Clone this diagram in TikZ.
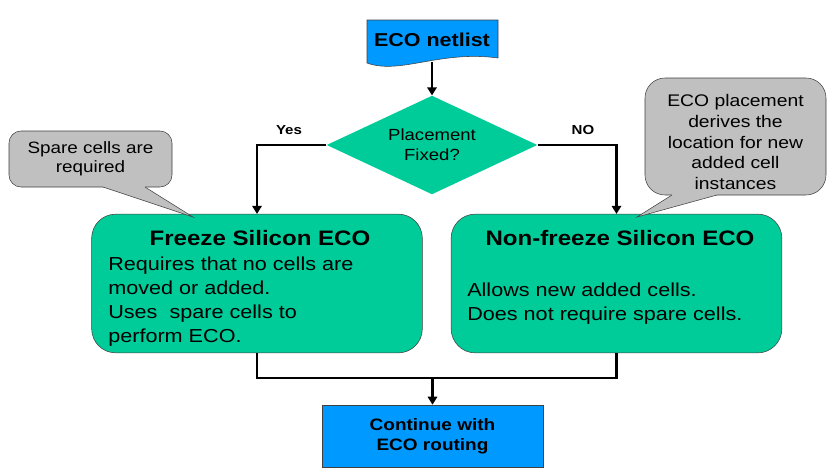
\documentclass[tikz,border=0pt]{standalone}
\usepackage{fontspec}
\setmainfont[FakeStretch=1.15]{Liberation Sans}
\usetikzlibrary{shapes.geometric,arrows.meta}
\definecolor{ecoblue}{RGB}{0,153,255}
\definecolor{ecogreen}{RGB}{0,204,153}
\definecolor{notegray}{RGB}{192,192,192}
\definecolor{edgegray}{RGB}{64,64,64}

\begin{document}
\begin{tikzpicture}[x=0.75pt,y=-0.75pt,
    flow/.style={line width=2pt},
    arrow/.style={flow,-{Triangle[length=6pt,width=7pt]}},
    ecobox/.style={draw=edgegray,fill=ecogreen,rounded corners=18pt,minimum width=248pt,minimum height=104pt},
    title/.style={font=\fontsize{15.7}{18}\selectfont\bfseries},
    body/.style={font=\fontsize{14.1}{18}\selectfont,align=left,inner sep=0pt,anchor=west},
    note/.style={draw=edgegray,fill=notegray}]
    \useasboundingbox (0,0) rectangle (833,472);

    % Draw input netlist (document shape)
    \filldraw[fill=ecoblue,draw=edgegray] (367,20) -- (498,20) -- (498,58) .. controls (440,50) and (400,75) .. (367,63) -- cycle;
    \node[minimum width=98pt,minimum height=33pt] (netlist) at (432,40) {\fontsize{14}{16}\selectfont\bfseries ECO netlist};

    % Draw decision
    \node[diamond,fill=ecogreen,aspect=2.13,minimum width=158pt,minimum height=74pt,inner sep=0pt,align=center,
        font=\fontsize{12.1}{15}\selectfont] (dec) at (432,145) {Placement\\Fixed?};
    \draw[arrow] (netlist.south) -- (dec.north);

    % Add branch labels
    \node[font=\fontsize{9.8}{12}\selectfont\bfseries] (yes) at (289,130) {Yes};
    \node[font=\fontsize{9.8}{12}\selectfont\bfseries] (no) at (583,130) {NO};

    % Draw the two ECO flows
    \node[ecobox] (freeze) at (257,283.5) {};
    \node[ecobox] (nonfreeze) at (616.5,283.5) {};
    \node[title] (freezetitle) at (260,238) {Freeze Silicon ECO};
    \node[body] (freezebody) at (108,302) {Requires that no cells are\\moved or added.\\Uses~ spare cells to\\perform ECO.};
    \node[title] (nonfreezetitle) at (620,238) {Non-freeze Silicon ECO};
    \node[body] (nonfreezebody) at (467,304) {Allows new added cells.\\Does not require spare cells.};
    \draw[arrow] (dec.west) -| (freeze.north);
    \draw[arrow] (dec.east) -| (nonfreeze.north);

    % Merge into routing
    \node[draw=edgegray,fill=ecoblue,minimum width=165.75pt,minimum height=46.5pt,align=center,
        font=\fontsize{12.4}{15}\selectfont\bfseries] (cont) at (432.5,436) {Continue with\\ECO routing};
    \coordinate (merge) at (432.5,378);
    \draw[flow] (freeze.south) |- (merge) -| (nonfreeze.south);
    \draw[arrow] (merge) -- (cont.north);

    % Add callouts
    \filldraw[note,rounded corners=9pt] (9,131) rectangle (172,187);
    \fill[notegray] (103,185) -- (103,187) -- (193,217) -- (145,187) -- (145,185) -- cycle;
    \draw[edgegray] (103,187) -- (193,217) -- (145,187);
    \node[align=center,font=\fontsize{12.3}{14.3}\selectfont] (spare) at (90.5,158.5) {Spare cells are\\required};

    \filldraw[note,rounded corners=15pt] (645,78) rectangle (826,195);
    \fill[notegray] (672,193) -- (672,195) -- (637,217) -- (717,195) -- (717,193) -- cycle;
    \draw[edgegray] (672,195) -- (637,217) -- (717,195);
    \node[align=center,font=\fontsize{12.6}{15.6}\selectfont] (derive) at (735.5,142) {ECO placement\\derives the\\location for new\\added cell\\instances};
\end{tikzpicture}
\end{document}
